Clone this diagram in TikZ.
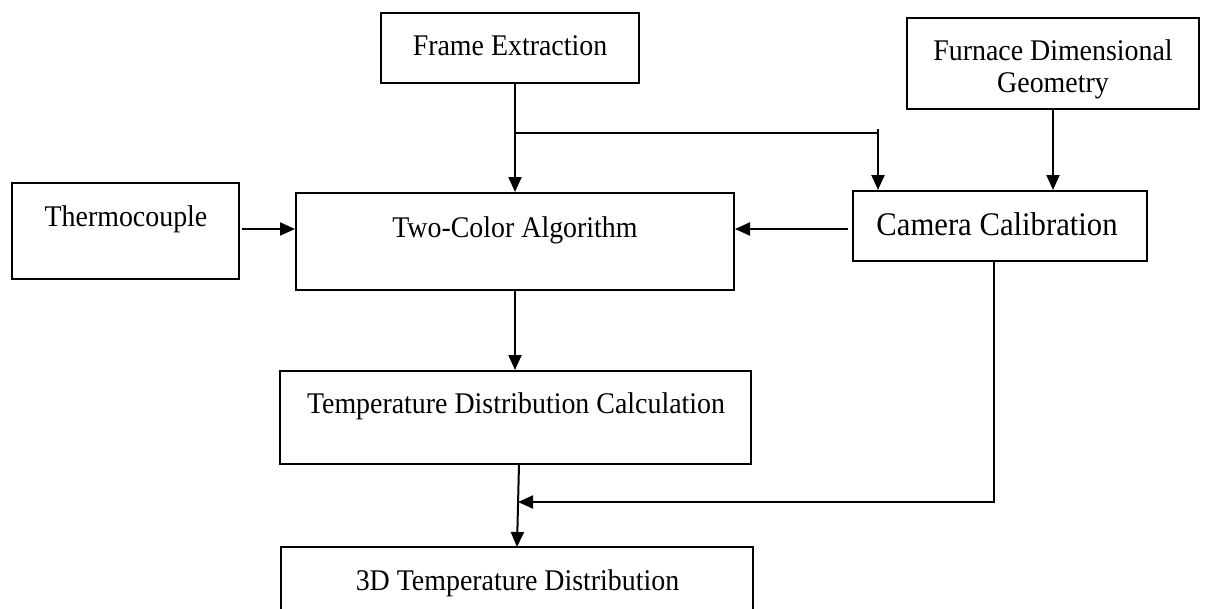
\documentclass[tikz,border=0pt]{standalone}
\usepackage{fontspec}
\setmainfont{Liberation Serif}[FakeStretch=0.93]
\usetikzlibrary{arrows.meta}
\tikzset{
  box/.style={draw=black, line width=2pt, rectangle, inner sep=0pt, fill=white},
  lbl/.style={font=\fontsize{30}{32}\selectfont, align=center, inner sep=0pt, anchor=base},
  biglbl/.style={font=\fontsize{33}{36}\selectfont, align=center, inner sep=0pt, anchor=base},
  link/.style={line width=2pt, draw=black},
  arr/.style={link, -{Triangle[length=15pt,width=13pt]}}
}
\begin{document}
\begin{tikzpicture}[x=1pt,y=-1pt]
\clip (0,0) rectangle (1205,608);
\fill[white] (0,0) rectangle (1205,608);
% boxes
\node[box, minimum width=258pt, minimum height=70pt] (fe) at (510,48) {};
\node[box, minimum width=292pt, minimum height=91pt] (fdg) at (1053,63.5) {};
\node[box, minimum width=227pt, minimum height=96pt] (tc) at (125.5,231) {};
\node[box, minimum width=438pt, minimum height=97pt] (tca) at (515,241.5) {};
\node[box, minimum width=294pt, minimum height=70pt] (cc) at (1000,226) {};
\node[box, minimum width=471pt, minimum height=93pt] (tdc) at (515.5,417.5) {};
\node[box, minimum width=472pt, minimum height=83pt] (td3) at (517,588.5) {};
% texts (anchored at their baselines)
\node[lbl] (tfe) at (510,55) {Frame Extraction};
\node[lbl] (tfdg) at (1053,92) {Furnace Dimensional\\Geometry};
\node[lbl] (ttc) at (126,226) {Thermocouple};
\node[lbl] (ttca) at (515,237) {Two-Color Algorithm};
\node[biglbl] (tcc) at (997,235) {Camera Calibration};
\node[lbl] (ttdc) at (516,413) {Temperature Distribution Calculation};
\node[lbl] (ttd3) at (517.5,590) {3D Temperature Distribution};
% coordinates
\coordinate (br1) at (515,133);
\coordinate (br2) at (878,133);
\coordinate (br3) at (878,129);
\coordinate (ts) at (242,229);
\coordinate (cs) at (848,229);
\coordinate (cb) at (994,261);
\coordinate (cbc) at (994,502);
\coordinate (mj) at (518,502);
\coordinate (tdb) at (519,464);
\coordinate (td3t) at (517,547);
% connectors
\draw[arr] (fe.south -| tca.north) -- (tca.north);
\draw[link] (br1) -- (br2);
\draw[arr] (br3) -- (br3 |- cc.north);
\draw[arr] (fdg.south) -- (fdg.south |- cc.north);
\draw[arr] (ts) -- (ts -| tca.west);
\draw[arr] (cs) -- (cs -| tca.east);
\draw[arr] (tca.south) -- (tca.south |- tdc.north);
\draw[arr] (cb) -- (cbc) -- (mj);
\draw[arr] (tdb) -- (td3t);
\end{tikzpicture}
\end{document}
